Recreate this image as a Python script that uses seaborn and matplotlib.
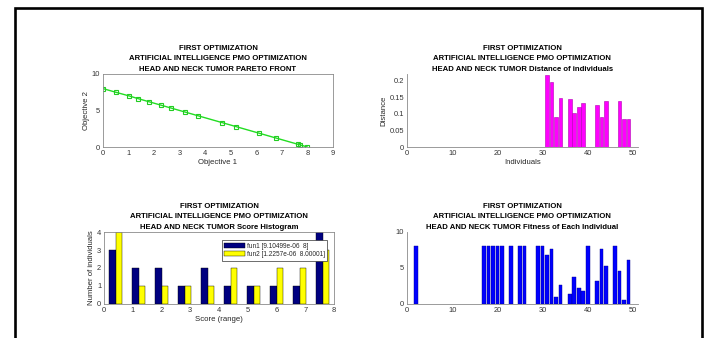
import matplotlib
matplotlib.use("Agg")
import matplotlib.pyplot as plt
import seaborn as sns
import pandas as pd
from matplotlib.patches import Rectangle

# ---------------- data ----------------
pareto_obj1 = [0.0, 0.5, 1.02, 1.37, 1.8, 2.28, 2.66, 3.22, 3.72, 4.65, 5.22, 6.12, 6.78, 7.62, 7.7, 8.0]
pareto_obj2 = [8.0, 7.5, 7.0, 6.63, 6.2, 5.72, 5.34, 4.78, 4.28, 3.35, 2.78, 1.88, 1.22, 0.38, 0.3, 0.0]

dist_individuals = [31, 32, 33, 34, 36, 37, 38, 39, 42, 43, 44, 47, 48, 49]
dist_values = [0.219, 0.198, 0.091, 0.148, 0.144, 0.102, 0.122, 0.132, 0.126, 0.090, 0.140, 0.138, 0.085, 0.086]

hist_centers = [0.4, 1.2, 2.0, 2.8, 3.6, 4.4, 5.2, 6.0, 6.8, 7.6]
hist_fun1 = [3, 2, 2, 1, 2, 1, 1, 1, 1, 4]
hist_fun2 = [4, 1, 1, 1, 1, 2, 1, 2, 2, 3]
legend_fun1 = "fun1 [9.10499e-06  8]"
legend_fun2 = "fun2 [1.2257e-06  8.00001]"

fit_individuals = [2, 17, 18, 19, 20, 21, 23, 25, 26, 29, 30, 31, 32, 33, 34,
                   36, 37, 38, 39, 40, 42, 43, 44, 46, 47, 48, 49]
fit_values = [8.0, 8.0, 8.0, 8.0, 8.0, 8.0, 8.0, 8.0, 8.0, 8.0, 8.0, 6.78, 7.62, 1.02, 2.66,
              1.37, 3.72, 2.28, 1.8, 8.0, 3.22, 7.7, 5.22, 8.0, 4.65, 0.5, 6.12]

title_l1 = "FIRST OPTIMIZATION"
title_l2 = "ARTIFICIAL INTELLIGENCE PMO OPTIMIZATION"
titles = ["HEAD AND NECK TUMOR PARETO FRONT",
          "HEAD AND NECK TUMOR Distance of individuals",
          "HEAD AND NECK TUMOR Score Histogram",
          "HEAD AND NECK TUMOR Fitness of Each Individual"]

# ---------------- style ----------------
sns.set_theme(style="white")
plt.rcParams["font.family"] = ["Liberation Sans", "DejaVu Sans"]
plt.rcParams.update({
    "axes.edgecolor": "#8a8a8a",
    "axes.linewidth": 0.6,
    "xtick.color": "#8a8a8a",
    "ytick.color": "#8a8a8a",
    "xtick.labelcolor": "#333333",
    "ytick.labelcolor": "#333333",
    "xtick.direction": "in",
    "ytick.direction": "in",
    "xtick.major.size": 2,
    "ytick.major.size": 2,
    "xtick.major.width": 0.5,
    "ytick.major.width": 0.5,
    "xtick.labelsize": 5.4,
    "ytick.labelsize": 5.4,
    "xtick.major.pad": 2,
    "ytick.major.pad": 2,
    "axes.labelsize": 5.6,
    "axes.labelcolor": "#262626",
    "axes.labelpad": 1.5,
})

W, H = 706, 338
fig = plt.figure(figsize=(W / 100, H / 100), dpi=100)
fig.patch.set_facecolor("white")


def pos(l, r, t, b):
    return [l / W, 1 - b / H, (r - l) / W, (b - t) / H]


def set_title(ax, line3):
    ax.set_title(f"{title_l1}\n{title_l2}\n{line3}", fontsize=5.6, fontweight="bold",
                 color="black", linespacing=1.68, pad=2.5)


# ---------- top-left: Pareto front ----------
ax1 = fig.add_axes(pos(103, 333, 74, 147))
df1 = pd.DataFrame({"Objective 1": pareto_obj1, "Objective 2": pareto_obj2})
sns.lineplot(data=df1, x="Objective 1", y="Objective 2", ax=ax1, color="#22dd22",
             linewidth=1.0, marker="s", markersize=3.2, markerfacecolor="none",
             markeredgecolor="#22cc22", markeredgewidth=0.8, sort=False)
ax1.set_xlim(0, 9)
ax1.set_ylim(0, 10)
ax1.set_xticks(range(0, 10))
ax1.set_yticks([0, 5, 10])
set_title(ax1, titles[0])

# ---------- top-right: Distance ----------
ax2 = fig.add_axes(pos(407, 637.5, 74, 147))
df2 = pd.DataFrame({"Individuals": dist_individuals, "Distance": dist_values})
sns.barplot(data=df2, x="Individuals", y="Distance", ax=ax2, native_scale=True,
            color="#ff00ff", saturation=1, width=0.8, errorbar=None,
            edgecolor="#b000b0", linewidth=0.4)
ax2.set_xlim(0, 51)
ax2.set_ylim(0, 0.221)
ax2.set_xticks([0, 10, 20, 30, 40, 50])
ax2.set_xticklabels(["0", "10", "20", "30", "40", "50"])
ax2.set_yticks([0, 0.05, 0.1, 0.15, 0.2])
ax2.set_yticklabels(["0", "0.05", "0.1", "0.15", "0.2"])
for s in ["top", "right"]:
    ax2.spines[s].set_visible(False)
set_title(ax2, titles[1])

# ---------- bottom-left: Score histogram ----------
ax3 = fig.add_axes(pos(104, 334, 232, 304))
df3 = pd.DataFrame({
    "center": hist_centers + hist_centers,
    "count": hist_fun1 + hist_fun2,
    "series": [legend_fun1] * len(hist_centers) + [legend_fun2] * len(hist_centers),
})
sns.barplot(data=df3, x="center", y="count", hue="series", ax=ax3, native_scale=True,
            palette=["#000080", "#ffff00"], saturation=1, width=0.57, errorbar=None,
            edgecolor="black", linewidth=0.3)
ax3.set_xlim(0, 8)
ax3.set_ylim(0, 4)
ax3.set_xticks(range(0, 9))
ax3.set_xticklabels([str(i) for i in range(0, 9)])
ax3.set_yticks(range(0, 5))
ax3.set_xlabel("Score (range)")
ax3.set_ylabel("Number of individuals")
leg = ax3.legend(loc="upper right", fontsize=4.7, frameon=True, fancybox=False,
                 edgecolor="#333333", framealpha=1, handlelength=3.2, handleheight=0.8,
                 borderpad=0.35, labelspacing=0.25, handletextpad=0.3,
                 bbox_to_anchor=(0.985, 0.93))
leg.get_frame().set_linewidth(0.5)
set_title(ax3, titles[2])

# ---------- bottom-right: Fitness ----------
ax4 = fig.add_axes(pos(407, 637.5, 232, 304))
df4 = pd.DataFrame({"ind": fit_individuals, "fit": fit_values})
sns.barplot(data=df4, x="ind", y="fit", ax=ax4, native_scale=True,
            color="#0000ff", saturation=1, width=0.8, errorbar=None,
            edgecolor="#000090", linewidth=0.3)
ax4.set_xlim(0, 51)
ax4.set_ylim(0, 10)
ax4.set_xticks([0, 10, 20, 30, 40, 50])
ax4.set_xticklabels(["0", "10", "20", "30", "40", "50"])
ax4.set_yticks([0, 5, 10])
ax4.set_xlabel("")
ax4.set_ylabel("")
for s in ["top", "right"]:
    ax4.spines[s].set_visible(False)
set_title(ax4, titles[3])

# ---------- outer frame ----------
frame = Rectangle((14.5 / W, -0.05), (701.5 - 14.5) / W, 1.05 - 8 / H,
                  transform=fig.transFigure, fill=False, edgecolor="black",
                  linewidth=1.9, zorder=10)
fig.patches.append(frame)

fig.savefig("out.png", dpi=100, facecolor="white")
